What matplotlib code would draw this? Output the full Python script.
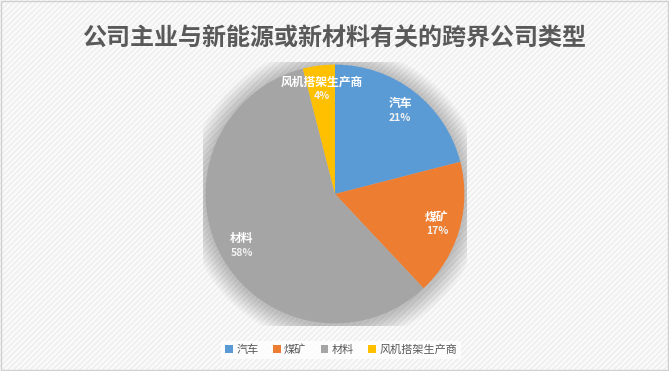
import numpy as np
import matplotlib.pyplot as plt
from matplotlib.patches import Rectangle, Circle

plt.rcParams['font.family'] = ['Noto Sans CJK SC', 'DejaVu Sans']

# data
names = ['汽车', '煤矿', '材料', '风机搭架生产商']
shares = [21, 17, 58, 4]
colors = ['#5B9BD5', '#ED7D31', '#A5A5A5', '#FFC000']
title = '公司主业与新能源或新材料有关的跨界公司类型'

fig = plt.figure(figsize=(6.69, 3.71), dpi=100)
fig.patch.set_facecolor('white')

# striped background + border
bg = Rectangle((0, 0), 1, 1, transform=fig.transFigure, facecolor='#FAFAFA',
               edgecolor='#EDEDED', hatch='//////', linewidth=0, zorder=-10)
fig.patches.append(bg)
frame = Rectangle((0.001, 0.002), 0.997, 0.995, transform=fig.transFigure,
                  fill=False, edgecolor='#D0D0D0', linewidth=1.0, zorder=10)
fig.patches.append(frame)

ax = fig.add_axes([0.3034, 0.1213, 0.3946, 0.7116])
ax.set_aspect('equal')
ax.axis('off')

# soft shadow around the pie
for i in range(12):
    r = 1.0 + 0.013 * (12 - i)
    ax.add_patch(Circle((0, -0.01), r, facecolor='#000000', alpha=0.02,
                        edgecolor='none', zorder=0))

wedges, _ = ax.pie(shares, colors=colors, startangle=90, counterclock=False,
                   radius=1.0, wedgeprops=dict(linewidth=0))
for w in wedges:
    w.set_zorder(2)

for w, name, v in zip(wedges, names, shares):
    ang = np.deg2rad((w.theta1 + w.theta2) / 2)
    x, y = 0.82 * np.cos(ang), 0.82 * np.sin(ang)
    ax.text(x, y + 0.05, name, ha='center', va='center', color='white',
            fontsize=8.5, fontweight='bold', zorder=5)
    ax.text(x, y - 0.06, f'{v}%', ha='center', va='center', color='#F2F2F2',
            fontsize=7.5, fontweight='bold', zorder=5)

ax.set_xlim(-1.02, 1.02)
ax.set_ylim(-1.02, 1.02)

fig.text(0.5, 0.895, title, ha='center', va='center', fontsize=17.3,
         color='#595959', fontweight='bold')

leg = fig.legend(wedges, names, loc='center', bbox_to_anchor=(0.51, 0.057),
                 ncol=4, frameon=True, fontsize=8, handlelength=0.7,
                 handleheight=0.7, handletextpad=0.3, columnspacing=1.3,
                 borderpad=0.35)
leg.get_frame().set_facecolor('white')
leg.get_frame().set_edgecolor('none')
leg.get_frame().set_alpha(0.8)
for t in leg.get_texts():
    t.set_color('#595959')
for h in leg.legend_handles:
    h.set_edgecolor('none')

fig.savefig('out.png', dpi=100)
